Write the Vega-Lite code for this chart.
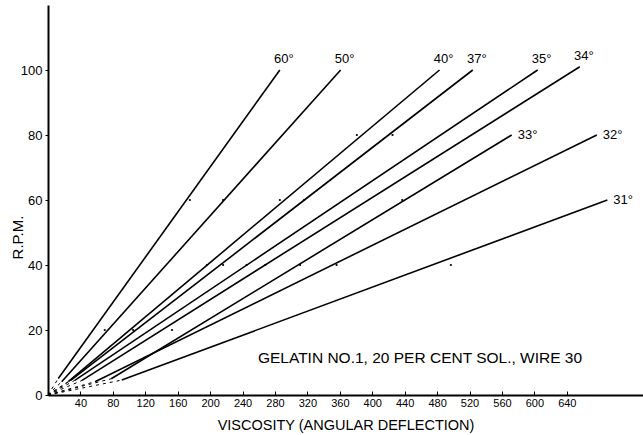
{
  "$schema": "https://vega.github.io/schema/vega-lite/v6.json",
  "width": 595,
  "height": 390,
  "autosize": "none",
  "padding": {"left": 48, "top": 5, "right": 0, "bottom": 40},
  "background": "white",
  "config": {"view": {"stroke": null}, "font": "Liberation Sans", "axis": {"labelOverlap": false, "labelBound": false, "labelFlush": false}},
  "datasets": {
    "lines": [
      {"series": "60°", "part": "solid", "x": 12.7, "y": 5.1},
      {"series": "60°", "part": "solid", "x": 286, "y": 100},
      {"series": "50°", "part": "solid", "x": 16.9, "y": 4.1},
      {"series": "50°", "part": "solid", "x": 361, "y": 100},
      {"series": "40°", "part": "solid", "x": 25, "y": 4.1},
      {"series": "40°", "part": "solid", "x": 483, "y": 100},
      {"series": "37°", "part": "solid", "x": 28, "y": 4.5},
      {"series": "37°", "part": "solid", "x": 524, "y": 100},
      {"series": "35°", "part": "solid", "x": 33, "y": 4.5},
      {"series": "35°", "part": "solid", "x": 604, "y": 100},
      {"series": "34°", "part": "solid", "x": 42, "y": 4.5},
      {"series": "34°", "part": "solid", "x": 656, "y": 101},
      {"series": "33°", "part": "solid", "x": 78, "y": 5},
      {"series": "33°", "part": "solid", "x": 572, "y": 80},
      {"series": "32°", "part": "solid", "x": 58, "y": 4.1},
      {"series": "32°", "part": "solid", "x": 677, "y": 80},
      {"series": "31°", "part": "solid", "x": 91, "y": 4.6},
      {"series": "31°", "part": "solid", "x": 690, "y": 60},
      {"series": "60°", "part": "dash", "x": 0, "y": 0},
      {"series": "60°", "part": "dash", "x": 12.7, "y": 5.1},
      {"series": "50°", "part": "dash", "x": 0, "y": 0},
      {"series": "50°", "part": "dash", "x": 16.9, "y": 4.1},
      {"series": "40°", "part": "dash", "x": 0, "y": 0},
      {"series": "40°", "part": "dash", "x": 25, "y": 4.1},
      {"series": "37°", "part": "dash", "x": 0, "y": 0},
      {"series": "37°", "part": "dash", "x": 28, "y": 4.5},
      {"series": "35°", "part": "dash", "x": 0, "y": 0},
      {"series": "35°", "part": "dash", "x": 33, "y": 4.5},
      {"series": "34°", "part": "dash", "x": 0, "y": 0},
      {"series": "34°", "part": "dash", "x": 42, "y": 4.5},
      {"series": "33°", "part": "dash", "x": 0, "y": 0},
      {"series": "33°", "part": "dash", "x": 78, "y": 5},
      {"series": "32°", "part": "dash", "x": 0, "y": 0},
      {"series": "32°", "part": "dash", "x": 58, "y": 4.1},
      {"series": "31°", "part": "dash", "x": 0, "y": 0},
      {"series": "31°", "part": "dash", "x": 91, "y": 4.6}
    ],
    "points": [
      {"x": 70, "y": 20}, {"x": 105, "y": 20}, {"x": 153, "y": 20},
      {"x": 196, "y": 40}, {"x": 216, "y": 40}, {"x": 245, "y": 40}, {"x": 268, "y": 40},
      {"x": 311, "y": 40}, {"x": 356, "y": 40}, {"x": 497, "y": 40},
      {"x": 175, "y": 60}, {"x": 216, "y": 60}, {"x": 286, "y": 60}, {"x": 316, "y": 60}, {"x": 437, "y": 60},
      {"x": 381, "y": 80}, {"x": 425, "y": 80}
    ],
    "labels": [
      {"label": "60°", "x": 286, "y": 100, "pos": "top"},
      {"label": "50°", "x": 361, "y": 100, "pos": "top"},
      {"label": "40°", "x": 483, "y": 100, "pos": "top"},
      {"label": "37°", "x": 524, "y": 100, "pos": "top"},
      {"label": "35°", "x": 604, "y": 100, "pos": "top"},
      {"label": "34°", "x": 656, "y": 101, "pos": "top"},
      {"label": "33°", "x": 572, "y": 80, "pos": "right"},
      {"label": "32°", "x": 677, "y": 80, "pos": "right"},
      {"label": "31°", "x": 690, "y": 60, "pos": "right"}
    ]
  },
  "layer": [
    {
      "data": {"name": "lines"},
      "transform": [{"filter": "datum.part === 'solid'"}],
      "mark": {"type": "line", "color": "black", "strokeWidth": 1.6},
      "encoding": {
        "x": {
          "field": "x", "type": "quantitative",
          "scale": {"domain": [0, 734], "nice": false, "zero": true},
          "axis": {
            "values": [40, 80, 120, 160, 200, 240, 280, 320, 360, 400, 440, 480, 520, 560, 600, 640],
            "tickCount": 30,
            "labelOverlap": false,
            "title": "VISCOSITY (ANGULAR DEFLECTION)",
            "grid": false,
            "domainColor": "black", "domainWidth": 2,
            "tickColor": "black", "tickSize": -4, "tickWidth": 1,
            "labelPadding": 6, "labelFontSize": 11, "labelColor": "black",
            "titleFontSize": 14.5, "titleFontWeight": "normal", "titleColor": "black",
            "titleY": 30, "titleBaseline": "middle"
          }
        },
        "y": {
          "field": "y", "type": "quantitative",
          "scale": {"domain": [0, 120], "nice": false},
          "axis": {
            "values": [0, 20, 40, 60, 80, 100],
            "tickCount": 20,
            "labelOverlap": false,
            "title": "R.P.M.",
            "grid": false,
            "domainColor": "black", "domainWidth": 2,
            "tickColor": "black", "tickSize": 3, "tickWidth": 1,
            "labelPadding": 3, "labelFontSize": 13, "labelColor": "black",
            "titleFontSize": 15, "titleFontWeight": "normal", "titleColor": "black",
            "titleX": -31, "titleY": 232, "titleAngle": -90, "titleBaseline": "middle", "titleAlign": "center"
          }
        },
        "detail": {"field": "series"}
      }
    },
    {
      "data": {"name": "lines"},
      "transform": [{"filter": "datum.part === 'dash'"}],
      "mark": {"type": "line", "color": "black", "strokeWidth": 1, "strokeDash": [3, 4]},
      "encoding": {
        "x": {"field": "x", "type": "quantitative"},
        "y": {"field": "y", "type": "quantitative"},
        "detail": {"field": "series"}
      }
    },
    {
      "mark": {"type": "rule", "color": "black", "strokeWidth": 2},
      "encoding": {"y": {"datum": 120, "type": "quantitative"}}
    },
    {
      "data": {"name": "points"},
      "mark": {"type": "point", "filled": true, "color": "black", "size": 5, "opacity": 1},
      "encoding": {
        "x": {"field": "x", "type": "quantitative"},
        "y": {"field": "y", "type": "quantitative"}
      }
    },
    {
      "data": {"name": "labels"},
      "transform": [{"filter": "datum.pos === 'top'"}],
      "mark": {"type": "text", "align": "center", "baseline": "bottom", "dx": 4, "dy": -4, "fontSize": 13, "color": "black"},
      "encoding": {
        "x": {"field": "x", "type": "quantitative"},
        "y": {"field": "y", "type": "quantitative"},
        "text": {"field": "label"}
      }
    },
    {
      "data": {"name": "labels"},
      "transform": [{"filter": "datum.pos === 'right'"}],
      "mark": {"type": "text", "align": "left", "baseline": "middle", "dx": 6, "fontSize": 13, "color": "black"},
      "encoding": {
        "x": {"field": "x", "type": "quantitative"},
        "y": {"field": "y", "type": "quantitative"},
        "text": {"field": "label"}
      }
    },
    {
      "data": {"values": [{"note": "GELATIN NO.1, 20 PER CENT SOL., WIRE 30"}]},
      "mark": {"type": "text", "align": "left", "baseline": "middle", "fontSize": 15.5, "color": "black"},
      "encoding": {
        "x": {"datum": 259, "type": "quantitative"},
        "y": {"datum": 11.5, "type": "quantitative"},
        "text": {"field": "note"}
      }
    }
  ]
}
